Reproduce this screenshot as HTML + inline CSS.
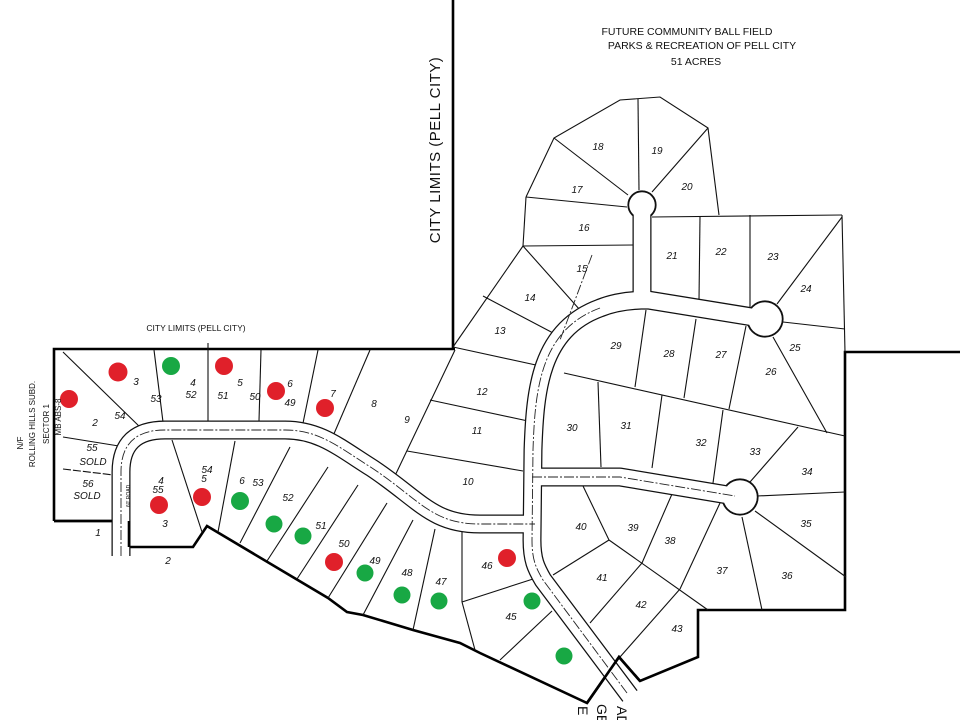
<!DOCTYPE html>
<html><head><meta charset="utf-8"><style>
html,body{margin:0;padding:0;background:#fff;}
svg{display:block;}
text{font-family:"Liberation Sans",sans-serif;fill:#111;}
.n{font-size:10px;font-style:italic;text-anchor:middle;}
.t{font-size:10.5px;text-anchor:middle;}
</style></head><body>
<svg width="960" height="720" viewBox="0 0 960 720" xmlns="http://www.w3.org/2000/svg">
<rect width="960" height="720" fill="#fff"/>
<g fill="none" stroke="#000" stroke-width="2.6" stroke-linejoin="miter">
<line x1="453" y1="0" x2="453" y2="349"/>
<path d="M54,521 L54,349 L455,349"/>
<path d="M54,521 L129,521 L129,547 L193,547 L207,526 L328,598 L347,612 L363,615 L413,630 L460,643 L480,653 L587,703 L619,657 L640,681 L698,657 L698,610 L845,610 L845,352 L960,352"/>
</g>
<g fill="none" stroke="#111" stroke-width="1.1">
<path d="M526,197 L554,138 L620,100 L660,97 L708,128 L719,215"/>
<line x1="523" y1="246" x2="526" y2="197"/>
<line x1="523" y1="246" x2="453" y2="347"/>
<line x1="554" y1="138" x2="628" y2="195"/>
<line x1="638" y1="99" x2="639" y2="190"/>
<line x1="708" y1="128" x2="652" y2="192"/>
<line x1="526" y1="197" x2="627" y2="207"/>
<line x1="523" y1="246" x2="633" y2="245"/>
<line x1="523" y1="246" x2="580" y2="310"/>
<line x1="483" y1="296" x2="555" y2="334"/>
<line x1="453" y1="347" x2="545" y2="367"/>
<line x1="430" y1="400" x2="528" y2="421"/>
<line x1="407" y1="451" x2="523" y2="471"/>
<line x1="652" y1="217" x2="842" y2="215"/>
<line x1="842" y1="215" x2="845" y2="352"/>
<line x1="700" y1="217" x2="699" y2="300"/>
<line x1="750" y1="215" x2="750" y2="308"/>
<line x1="842" y1="217" x2="777" y2="304"/>
<line x1="783" y1="322" x2="845" y2="329"/>
<line x1="773" y1="337" x2="827" y2="433"/>
<line x1="564" y1="373" x2="845" y2="436"/>
<line x1="646" y1="310" x2="635" y2="387"/>
<line x1="696" y1="319" x2="684" y2="398"/>
<line x1="746" y1="326" x2="729" y2="409"/>
<line x1="598" y1="382" x2="601" y2="467"/>
<line x1="662" y1="395" x2="652" y2="468"/>
<line x1="723" y1="410" x2="713" y2="483"/>
<line x1="798" y1="427" x2="750" y2="482"/>
<line x1="757" y1="496" x2="845" y2="492"/>
<line x1="583" y1="486" x2="609" y2="540"/>
<line x1="609" y1="540" x2="553" y2="575"/>
<line x1="609" y1="540" x2="708" y2="610"/>
<line x1="672" y1="494" x2="642" y2="563"/>
<line x1="642" y1="563" x2="590" y2="623"/>
<line x1="720" y1="503" x2="680" y2="589"/>
<line x1="680" y1="589" x2="620" y2="657"/>
<line x1="742" y1="517" x2="762" y2="610"/>
<line x1="755" y1="511" x2="846" y2="577"/>
<line x1="63" y1="352" x2="143" y2="430"/>
<line x1="154" y1="350" x2="163" y2="422"/>
<line x1="208" y1="343" x2="208" y2="421"/>
<line x1="261" y1="350" x2="259" y2="421"/>
<line x1="318" y1="350" x2="302" y2="428"/>
<line x1="370" y1="350" x2="330" y2="443"/>
<line x1="455" y1="350" x2="392" y2="482"/>
<line x1="63" y1="437" x2="125" y2="447"/>
<line x1="63" y1="469" x2="122" y2="476" stroke-dasharray="8,2"/>
<line x1="172" y1="440" x2="202" y2="532"/>
<line x1="235" y1="441" x2="218" y2="532"/>
<line x1="290" y1="447" x2="240" y2="543"/>
<line x1="328" y1="467" x2="267" y2="561"/>
<line x1="358" y1="485" x2="297" y2="579"/>
<line x1="387" y1="503" x2="328" y2="598"/>
<line x1="413" y1="520" x2="363" y2="615"/>
<line x1="435" y1="529" x2="413" y2="630"/>
<line x1="462" y1="532" x2="462" y2="602"/>
<line x1="462" y1="602" x2="533" y2="579"/>
<line x1="462" y1="602" x2="475" y2="650"/>
<line x1="500" y1="660" x2="552" y2="611"/>
</g>
<g fill="none" stroke-linecap="butt" stroke-linejoin="round">
<g stroke="#111" stroke-width="19">
<path d="M121,556 L121,472 Q121,430 165,430 L285,430 C320,430 340,448 372,468 C420,500 432,524 480,524 L535,524"/>
<path d="M630,696 L543,580 C536,568 532,560 532,540 L533,450 C535,390 540,330 600,308 C615,302 630,300 648,300 L765,319"/>
<path d="M532,477 L620,477 L740,497"/>
<path d="M642,300 L642,205"/>
</g>
<g stroke="#111" stroke-width="1.2">
<circle cx="642" cy="205" r="14" fill="#111"/>
<circle cx="765" cy="319" r="18" fill="#111"/>
<circle cx="740" cy="497" r="18" fill="#111"/>
</g>
<g stroke="#fff" stroke-width="16.5">
<path d="M121,560 L121,472 Q121,430 165,430 L285,430 C320,430 340,448 372,468 C420,500 432,524 480,524 L535,524"/>
<path d="M633,700 L543,580 C536,568 532,560 532,540 L533,450 C535,390 540,330 600,308 C615,302 630,300 648,300 L765,319"/>
<path d="M532,477 L620,477 L740,497"/>
<path d="M642,300 L642,205"/>
</g>
<circle cx="642" cy="205" r="12.8" fill="#fff"/>
<circle cx="765" cy="319" r="16.8" fill="#fff"/>
<circle cx="740" cy="497" r="16.8" fill="#fff"/>
<g stroke="#222" stroke-width="0.9" stroke-dasharray="10,2,2,2">
<path d="M121,556 L121,472 Q121,430 165,430 L285,430 C320,430 340,448 372,468 C420,500 432,524 480,524 L535,524"/>
<path d="M627,693 L543,580 C536,568 532,560 532,540 L533,450 C535,390 540,330 600,308"/>
<path d="M532,477 L620,477 L735,496"/>
<line x1="592" y1="255" x2="560" y2="340"/>
</g>
</g>
<path d="M587,703 L619,657 L640,681" fill="none" stroke="#000" stroke-width="2.6"/>
<line x1="129" y1="521" x2="129" y2="547" stroke="#000" stroke-width="2.6"/>
<line x1="54" y1="521" x2="112" y2="521" stroke="#000" stroke-width="2.6"/>
<g fill="#e0202a">
<circle cx="118" cy="372" r="9.5"/><circle cx="69" cy="399" r="9"/><circle cx="224" cy="366" r="9"/>
<circle cx="276" cy="391" r="9"/><circle cx="325" cy="408" r="9"/><circle cx="159" cy="505" r="9"/>
<circle cx="202" cy="497" r="9"/><circle cx="334" cy="562" r="9"/><circle cx="507" cy="558" r="9"/>
</g>
<g fill="#18a844">
<circle cx="171" cy="366" r="9"/><circle cx="240" cy="501" r="9"/><circle cx="274" cy="524" r="8.5"/>
<circle cx="303" cy="536" r="8.5"/><circle cx="365" cy="573" r="8.5"/><circle cx="402" cy="595" r="8.5"/>
<circle cx="439" cy="601" r="8.5"/><circle cx="532" cy="601" r="8.5"/><circle cx="564" cy="656" r="8.5"/>
</g>
<g class="n">
<text x="136" y="385">3</text><text x="193" y="386">4</text><text x="191" y="398">52</text><text x="156" y="402">53</text>
<text x="240" y="386">5</text><text x="223" y="399">51</text><text x="255" y="400">50</text><text x="290" y="387">6</text>
<text x="290" y="406">49</text><text x="333" y="397">7</text><text x="374" y="407">8</text><text x="407" y="423">9</text>
<text x="95" y="426">2</text><text x="120" y="419">54</text><text x="92" y="451">55</text><text x="93" y="465">SOLD</text>
<text x="88" y="487">56</text><text x="87" y="499">SOLD</text><text x="161" y="484">4</text><text x="158" y="493">55</text>
<text x="165" y="527">3</text><text x="207" y="473">54</text><text x="204" y="482">5</text><text x="242" y="484">6</text>
<text x="258" y="486">53</text><text x="288" y="501">52</text><text x="321" y="529">51</text><text x="344" y="547">50</text>
<text x="375" y="564">49</text><text x="407" y="576">48</text><text x="441" y="585">47</text><text x="98" y="536">1</text>
<text x="168" y="564">2</text><text x="468" y="485">10</text>
<text x="598" y="150">18</text><text x="657" y="154">19</text><text x="577" y="193">17</text><text x="687" y="190">20</text>
<text x="584" y="231">16</text><text x="582" y="272">15</text><text x="672" y="259">21</text><text x="721" y="255">22</text>
<text x="773" y="260">23</text><text x="806" y="292">24</text><text x="530" y="301">14</text><text x="500" y="334">13</text>
<text x="616" y="349">29</text><text x="669" y="357">28</text><text x="721" y="358">27</text><text x="795" y="351">25</text>
<text x="771" y="375">26</text><text x="482" y="395">12</text><text x="477" y="434">11</text><text x="572" y="431">30</text>
<text x="626" y="429">31</text><text x="701" y="446">32</text><text x="755" y="455">33</text><text x="807" y="475">34</text>
<text x="581" y="530">40</text><text x="633" y="531">39</text><text x="670" y="544">38</text><text x="806" y="527">35</text>
<text x="722" y="574">37</text><text x="787" y="579">36</text><text x="602" y="581">41</text><text x="641" y="608">42</text>
<text x="677" y="632">43</text><text x="487" y="569">46</text><text x="511" y="620">45</text>
</g>
<g class="t">
<text x="687" y="35">FUTURE COMMUNITY BALL FIELD</text>
<text x="702" y="49">PARKS &amp; RECREATION OF PELL CITY</text>
<text x="696" y="65">51 ACRES</text>
<text x="196" y="331" style="font-size:8.5px">CITY LIMITS (PELL CITY)</text>
</g>
<text transform="translate(440,150) rotate(-90)" text-anchor="middle" style="font-size:15px;letter-spacing:0.5px">CITY LIMITS (PELL CITY)</text>
<g style="font-size:8px" text-anchor="middle">
<text transform="translate(23,443) rotate(-90)">N/F</text>
<text transform="translate(35,424) rotate(-90)">ROLLING HILLS SUBD.</text>
<text transform="translate(49,424) rotate(-90)">SECTOR 1</text>
<text transform="translate(61,417) rotate(-90)">MB ABS-8</text>
<text transform="translate(130,496) rotate(-90)" style="font-size:5px">60' ROAD</text>
</g>
<g style="font-size:14px">
<text transform="translate(578,706) rotate(90)">E</text>
<text transform="translate(597,704) rotate(90)">GE</text>
<text transform="translate(617,706) rotate(90)">AD</text>
</g>
</svg>
</body></html>
